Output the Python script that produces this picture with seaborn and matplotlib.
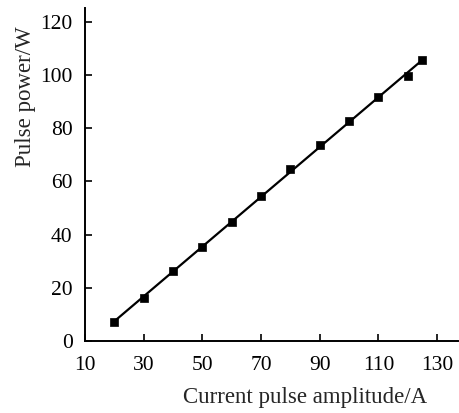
import numpy as np
import pandas as pd
import matplotlib
matplotlib.use("Agg")
import matplotlib.pyplot as plt
import seaborn as sns

# values
current = [20, 30, 40, 50, 60, 70, 80, 90, 100, 110, 120, 125]
power = [7.2, 16.3, 26.3, 35.3, 44.8, 54.6, 64.5, 73.8, 82.6, 91.5, 99.7, 105.5]
x_ticks = [10, 30, 50, 70, 90, 110, 130]
y_ticks = [0, 20, 40, 60, 80, 100, 120]

df = pd.DataFrame({"current": current, "power": power})

sns.set_style("ticks")
plt.rcParams["font.family"] = ["Liberation Serif", "DejaVu Serif"]
plt.rcParams["font.size"] = 15.5

fig = plt.figure(figsize=(4.6, 4.13), dpi=100)
ax = fig.add_axes([0.185, 0.174, 0.81, 0.806])

# linear fit line + square markers
sns.regplot(data=df, x="current", y="power", ci=None, ax=ax,
            scatter=False, line_kws={"color": "black", "lw": 1.6})
sns.scatterplot(data=df, x="current", y="power", ax=ax, marker="s",
                color="black", s=38, edgecolor="black", zorder=3)

ax.set_xlim(10, 137)
ax.set_ylim(0, 125)
ax.set_xticks(x_ticks)
ax.set_yticks(y_ticks)
ax.tick_params(direction="in", length=5, width=1.2, labelsize=15.5, colors="black")
ax.tick_params(axis="x", pad=11)
ax.tick_params(axis="y", pad=9)
sns.despine(ax=ax)
for s in ["left", "bottom"]:
    ax.spines[s].set_linewidth(1.4)
    ax.spines[s].set_color("black")

ax.set_xlabel("Current pulse amplitude/A", fontsize=16.5)
ax.set_ylabel("Pulse power/W", fontsize=16.5)
ax.xaxis.set_label_coords(0.59, -0.138)
ax.yaxis.set_label_coords(-0.133, 0.735)

fig.savefig("out.png", dpi=100)
plt.close(fig)
